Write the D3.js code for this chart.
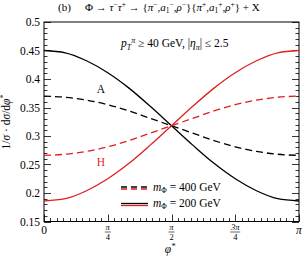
<!DOCTYPE html>
<html>
<head>
<meta charset="utf-8">
<script src="https://cdn.jsdelivr.net/npm/d3@7"></script>
<style>
body { margin: 0; background: #fff; }
svg { font-family: "Liberation Serif", "DejaVu Serif", serif; }
</style>
</head>
<body>
<div id="chart"></div>
<script>
// phi* sample points (in units of pi) and values
var phiPts = [0, 1/12, 2/12, 3/12, 4/12, 5/12, 6/12, 7/12, 8/12, 9/12, 10/12, 11/12, 1];
var a200 = [0.450, 0.446, 0.432, 0.411, 0.384, 0.352, 0.318, 0.284, 0.252, 0.225, 0.204, 0.190, 0.186];
var h200 = [0.186, 0.190, 0.204, 0.225, 0.252, 0.284, 0.318, 0.352, 0.384, 0.411, 0.432, 0.446, 0.450];
var a400 = [0.370, 0.368, 0.363, 0.355, 0.344, 0.331, 0.318, 0.305, 0.292, 0.281, 0.273, 0.268, 0.266];
var h400 = [0.266, 0.268, 0.273, 0.281, 0.292, 0.305, 0.318, 0.331, 0.344, 0.355, 0.363, 0.368, 0.370];
var yTicks = [0.15, 0.2, 0.25, 0.3, 0.35, 0.4, 0.45, 0.5];
var yTickLabels = ["0.15", "0.2", "0.25", "0.3", "0.35", "0.4", "0.45", "0.5"];

var red = "#dd1f1f";
var width = 307, height = 262;
var x0 = 44, x1 = 299, y0 = 22, y1 = 221.5;

var svg = d3.select("#chart").append("svg")
    .attr("width", width).attr("height", height);

var x = d3.scaleLinear().domain([0, Math.PI]).range([x0, x1]);
var y = d3.scaleLinear().domain([0.15, 0.5]).range([y1, y0]);

// frame
svg.append("rect").attr("x", x0).attr("y", y0)
   .attr("width", x1 - x0).attr("height", y1 - y0)
   .attr("fill", "none").attr("stroke", "#000").attr("stroke-width", 1);

// y ticks, both sides, inward
var yMinor = d3.range(15, 51).map(function(d) { return d / 100; });
svg.selectAll(".ytk").data(yMinor).enter().append("path")
   .attr("d", function(d) {
       var isMajor = Math.round(d * 100) % 5 == 0;
       var len = isMajor ? 7 : 3.5;
       var yy = Math.round(y(d)) + 0.5;
       return "M" + x0 + "," + yy + "h" + len + "M" + x1 + "," + yy + "h" + (-len);
   })
   .attr("stroke", "#000").attr("stroke-width", 0.8);

svg.selectAll(".ylab").data(yTicks).enter().append("text")
   .attr("x", 40).attr("y", function(d) { return y(d) + 4; })
   .attr("text-anchor", "end").attr("font-size", 11.5)
   .text(function(d, i) { return yTickLabels[i]; });

// x ticks, bottom only
var xMinor = d3.range(0, 41).map(function(d) { return d * Math.PI / 40; });
svg.selectAll(".xtk").data(xMinor).enter().append("path")
   .attr("d", function(d, i) {
       var len = i % 10 == 0 ? 7 : 3.5;
       var xx = Math.round(x(d)) + 0.5;
       return "M" + xx + "," + y1 + "v" + (-len);
   })
   .attr("stroke", "#000").attr("stroke-width", 0.8);

svg.append("text").attr("x", x(0)).attr("y", 234).attr("text-anchor", "middle")
   .attr("font-size", 11.5).text("0");
svg.append("text").attr("x", x(Math.PI)).attr("y", 234).attr("text-anchor", "middle")
   .attr("font-size", 11.5).attr("font-style", "italic").text("π");

var fracs = [[1, "π", "4"], [2, "π", "2"], [3, "3π", "4"]];
fracs.forEach(function(f) {
    var cx = x(f[0] * Math.PI / 4);
    svg.append("text").attr("x", cx).attr("y", 230).attr("text-anchor", "middle")
       .attr("font-size", 8.5).attr("font-style", "italic").text(f[1]);
    svg.append("line").attr("x1", cx - (f[1].length > 1 ? 5 : 3)).attr("x2", cx + (f[1].length > 1 ? 5 : 3))
       .attr("y1", 232).attr("y2", 232).attr("stroke", "#000").attr("stroke-width", 0.6);
    svg.append("text").attr("x", cx).attr("y", 239.5).attr("text-anchor", "middle")
       .attr("font-size", 8.5).text(f[2]);
});

// axis titles
var xl = svg.append("text").attr("x", 170).attr("y", 253).attr("text-anchor", "middle")
   .attr("font-size", 11.5).attr("font-style", "italic");
xl.append("tspan").text("φ");
xl.append("tspan").attr("dy", -4).attr("font-size", 8).text("*");

var yl = svg.append("text").attr("transform", "translate(10,122) rotate(-90)")
   .attr("text-anchor", "middle").attr("font-size", 11.5);
yl.append("tspan").text("1/");
yl.append("tspan").attr("font-style", "italic").text("σ");
yl.append("tspan").text(" · d");
yl.append("tspan").attr("font-style", "italic").text("σ");
yl.append("tspan").text("/d");
yl.append("tspan").attr("font-style", "italic").text("φ");
yl.append("tspan").attr("dy", -4).attr("font-size", 8).text("*");

// title
var t = svg.append("text").attr("x", 58).attr("y", 11).attr("font-size", 11);
t.append("tspan").text("(b)");
t.append("tspan").attr("x", 85).text("Φ → ");
t.append("tspan").attr("font-style", "italic").text("τ");
t.append("tspan").attr("dy", -4).attr("font-size", 7.5).text("−");
t.append("tspan").attr("dy", 4).attr("font-style", "italic").text("τ");
t.append("tspan").attr("dy", -4).attr("font-size", 7.5).text("+");
t.append("tspan").attr("dy", 4).text(" → {");
t.append("tspan").attr("font-style", "italic").text("π");
t.append("tspan").attr("dy", -4).attr("font-size", 7.5).text("−");
t.append("tspan").attr("dy", 4).text(",");
t.append("tspan").attr("font-style", "italic").text("a");
t.append("tspan").attr("dy", 2).attr("font-size", 7.5).text("1");
t.append("tspan").attr("dy", -6).attr("font-size", 7.5).text("−");
t.append("tspan").attr("dy", 4).text(",");
t.append("tspan").attr("font-style", "italic").text("ρ");
t.append("tspan").attr("dy", -4).attr("font-size", 7.5).text("−");
t.append("tspan").attr("dy", 4).text("}{");
t.append("tspan").attr("font-style", "italic").text("π");
t.append("tspan").attr("dy", -4).attr("font-size", 7.5).text("+");
t.append("tspan").attr("dy", 4).text(",");
t.append("tspan").attr("font-style", "italic").text("a");
t.append("tspan").attr("dy", 2).attr("font-size", 7.5).text("1");
t.append("tspan").attr("dy", -6).attr("font-size", 7.5).text("+");
t.append("tspan").attr("dy", 4).text(",");
t.append("tspan").attr("font-style", "italic").text("ρ");
t.append("tspan").attr("dy", -4).attr("font-size", 7.5).text("+");
t.append("tspan").attr("dy", 4).text("} + X");

// cut annotation
var c = svg.append("text").attr("x", 121).attr("y", 47).attr("font-size", 11.5);
c.append("tspan").attr("font-style", "italic").text("p");
c.append("tspan").attr("dy", 2.5).attr("font-size", 8).attr("font-style", "italic").text("T");
c.append("tspan").attr("dy", -7).attr("font-size", 8).attr("font-style", "italic").text("π");
c.append("tspan").attr("dy", 4.5).text(" ≥ 40 GeV,  |");
c.append("tspan").attr("font-style", "italic").text("η");
c.append("tspan").attr("dy", 2.5).attr("font-size", 8).attr("font-style", "italic").text("π");
c.append("tspan").attr("dy", -2.5).text("| ≤ 2.5");

// curves
var line = d3.line()
    .x(function(d) { return x(d[0] * Math.PI); })
    .y(function(d) { return y(d[1]); })
    .curve(d3.curveMonotoneX);

var series = [
    { v: a200, color: "#000", dash: null },
    { v: h200, color: red, dash: null },
    { v: a400, color: "#000", dash: "7,4" },
    { v: h400, color: red, dash: "7,4" }
];
series.forEach(function(s) {
    svg.append("path")
       .datum(phiPts.map(function(p, i) { return [p, s.v[i]]; }))
       .attr("d", line)
       .attr("fill", "none")
       .attr("stroke", s.color)
       .attr("stroke-width", 1.3)
       .attr("stroke-dasharray", s.dash);
});

svg.append("text").attr("x", 101).attr("y", 93).attr("text-anchor", "middle")
   .attr("font-size", 11.5).text("A");
svg.append("text").attr("x", 101).attr("y", 166).attr("text-anchor", "middle")
   .attr("font-size", 11.5).attr("fill", red).text("H");

// legend
var legend = [
    { label: "400 GeV", dash: "6,4", yy: 187 },
    { label: "200 GeV", dash: null, yy: 203.5 }
];
legend.forEach(function(l) {
    svg.append("line").attr("x1", 121).attr("x2", 148).attr("y1", l.yy).attr("y2", l.yy)
       .attr("stroke", "#000").attr("stroke-width", 1.3).attr("stroke-dasharray", l.dash);
    svg.append("line").attr("x1", 121).attr("x2", 148).attr("y1", l.yy + 2).attr("y2", l.yy + 2)
       .attr("stroke", red).attr("stroke-width", 1.3).attr("stroke-dasharray", l.dash);
    var lt = svg.append("text").attr("x", 153).attr("y", l.yy + 3.5).attr("font-size", 11.5);
    lt.append("tspan").attr("font-style", "italic").text("m");
    lt.append("tspan").attr("dy", 2).attr("font-size", 7.5).text("Φ");
    lt.append("tspan").attr("dy", -2).text(" = " + l.label);
});
</script>
</body>
</html>
